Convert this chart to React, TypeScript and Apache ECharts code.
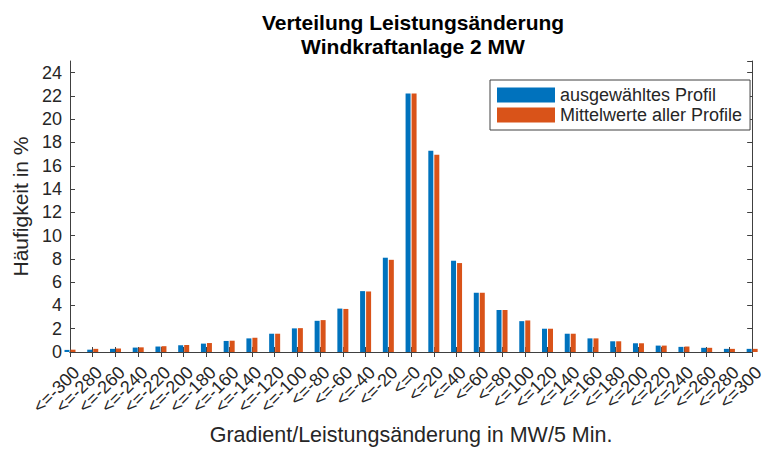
import React, { useEffect, useRef } from "react";
import * as echarts from "echarts";

const categories = [
  "<=-300", "<=-280", "<=-260", "<=-240", "<=-220", "<=-200", "<=-180", "<=-160",
  "<=-140", "<=-120", "<=-100", "<=-80", "<=-60", "<=-40", "<=-20", "<=0",
  "<=20", "<=40", "<=60", "<=80", "<=100", "<=120", "<=140", "<=160",
  "<=180", "<=200", "<=220", "<=240", "<=260", "<=280", "<=300",
];

const selectedProfile = [
  0.18, 0.2, 0.27, 0.38, 0.47, 0.58, 0.72, 0.95,
  1.17, 1.57, 2.03, 2.68, 3.73, 5.23, 8.1, 22.2,
  17.3, 7.84, 5.09, 3.61, 2.65, 2.0, 1.57, 1.17,
  0.92, 0.75, 0.55, 0.44, 0.36, 0.27, 0.27,
];

const meanAllProfiles = [
  0.2, 0.27, 0.3, 0.4, 0.5, 0.6, 0.77, 0.97,
  1.23, 1.57, 2.05, 2.74, 3.7, 5.2, 7.92, 22.2,
  16.94, 7.64, 5.09, 3.61, 2.71, 2.0, 1.57, 1.17,
  0.92, 0.75, 0.55, 0.47, 0.36, 0.27, 0.27,
];

const yTicks = { min: 0, max: 25, interval: 2 };

const AXIS = "#404040";
const TEXT = "#262626";
const FONT = "'Liberation Sans', Arial, Helvetica, sans-serif";

export default function App() {
  const ref = useRef<HTMLDivElement>(null);
  useEffect(() => {
    if (!ref.current) return;
    const chart = echarts.init(ref.current, undefined, { renderer: "svg" });
    const tickStyle = { show: true, inside: true, length: 5, lineStyle: { color: AXIS } };
    chart.setOption({
      animation: false,
      backgroundColor: "#ffffff",
      textStyle: { fontFamily: FONT },
      title: {
        text: "Verteilung Leistungsänderung\nWindkraftanlage 2 MW",
        left: 413,
        top: 10,
        textAlign: "center",
        padding: 0,
        textStyle: { fontSize: 21, fontWeight: "bold", color: "#000", lineHeight: 24, fontFamily: FONT },
      },
      legend: {
        orient: "vertical",
        left: 490,
        top: 80,
        padding: [6, 8, 6, 7],
        itemGap: 2,
        itemWidth: 58,
        itemHeight: 15,
        icon: "rect",
        borderColor: AXIS,
        borderWidth: 1,
        backgroundColor: "#fff",
        textStyle: { fontSize: 18, color: TEXT, fontFamily: FONT },
        data: ["ausgewähltes Profil", "Mittelwerte aller Profile"],
      },
      grid: { left: 70, right: 7, top: 61, bottom: 95, containLabel: false },
      xAxis: [
        {
          type: "category",
          position: "bottom",
          data: categories,
          boundaryGap: false,
          axisLine: { show: true, lineStyle: { color: AXIS } },
          axisTick: { ...tickStyle, interval: 0 },
          axisLabel: {
            interval: 0,
            rotate: 45,
            fontSize: 18,
            color: TEXT,
            margin: 11,
            verticalAlign: "top",
            fontFamily: FONT,
          },
          splitLine: { show: false },
          name: "Gradient/Leistungsänderung in MW/5 Min.",
          nameLocation: "middle",
          nameGap: 72,
          nameTextStyle: { fontSize: 21.5, color: TEXT, fontFamily: FONT },
        },
        {
          type: "category",
          position: "top",
          data: categories,
          boundaryGap: false,
          axisLine: { show: true, lineStyle: { color: AXIS } },
          axisTick: { ...tickStyle, interval: 0 },
          axisLabel: { show: false },
          splitLine: { show: false },
        },
      ],
      yAxis: [
        {
          type: "value",
          position: "left",
          min: yTicks.min,
          max: yTicks.max,
          interval: yTicks.interval,
          axisLine: { show: true, lineStyle: { color: AXIS } },
          axisTick: tickStyle,
          axisLabel: { fontSize: 18, color: TEXT, margin: 8, showMaxLabel: false, fontFamily: FONT },
          splitLine: { show: false },
          name: "Häufigkeit in %",
          nameLocation: "middle",
          nameGap: 36,
          nameTextStyle: { fontSize: 21, color: TEXT, fontFamily: FONT },
        },
        {
          type: "value",
          position: "right",
          min: yTicks.min,
          max: yTicks.max,
          interval: yTicks.interval,
          axisLine: { show: true, lineStyle: { color: AXIS } },
          axisTick: tickStyle,
          axisLabel: { show: false },
          splitLine: { show: false },
        },
      ],
      series: [
        {
          name: "ausgewähltes Profil",
          type: "bar",
          data: selectedProfile,
          barWidth: 5,
          barGap: "20%",
          clip: true,
          itemStyle: { color: "#0072BD" },
          xAxisIndex: 0,
          yAxisIndex: 0,
        },
        {
          name: "Mittelwerte aller Profile",
          type: "bar",
          data: meanAllProfiles,
          barWidth: 5,
          barGap: "20%",
          clip: true,
          itemStyle: { color: "#D95319" },
          xAxisIndex: 0,
          yAxisIndex: 0,
        },
      ],
    });
    return () => chart.dispose();
  }, []);
  return (
    <div
      ref={ref}
      style={{ position: "fixed", left: 0, top: 0, width: 767, height: 451, background: "#fff" }}
    />
  );
}
